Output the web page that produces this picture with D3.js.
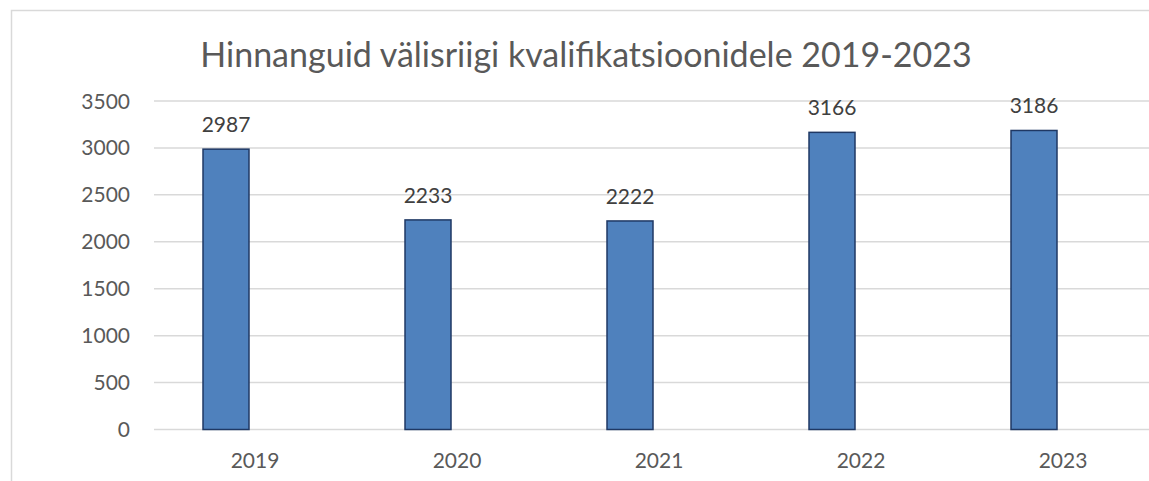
<!DOCTYPE html>
<html>
<head>
<meta charset="utf-8">
<script src="https://cdn.jsdelivr.net/npm/d3@7"></script>
<style>
  html, body { margin: 0; padding: 0; background: #fff; overflow: hidden; }
  svg { display: block; }
</style>
</head>
<body>
<svg id="chart" width="1149" height="481"></svg>
<script>
const title = "Hinnanguid välisriigi kvalifikatsioonidele 2019-2023";
const years = ["2019", "2020", "2021", "2022", "2023"];
const values = [2987, 2233, 2222, 3166, 3186];
const yTicks = [0, 500, 1000, 1500, 2000, 2500, 3000, 3500];

const svg = d3.select("#chart");
const W = 1149, H = 481;
const font = "Lato, 'Open Sans', sans-serif";

// chart border
svg.append("rect")
  .attr("x", 11.5).attr("y", 10.5)
  .attr("width", W + 20).attr("height", H + 20)
  .attr("fill", "#fff").attr("stroke", "#d9d9d9").attr("stroke-width", 1.5);

const plot = { left: 154, right: 1164, top: 101, bottom: 429.5 };

const x = d3.scaleBand().domain(years).range([plot.left, plot.right]).padding(0);
const y = d3.scaleLinear().domain([0, 3500]).range([plot.bottom, plot.top]);

// gridlines
svg.append("g").selectAll("line").data(yTicks).join("line")
  .attr("x1", plot.left).attr("x2", plot.right)
  .attr("y1", d => y(d)).attr("y2", d => y(d))
  .attr("stroke", "#d9d9d9").attr("stroke-width", 1.5);

// y tick labels
svg.append("g").selectAll("text").data(yTicks).join("text")
  .attr("x", 130).attr("y", d => y(d))
  .attr("dy", "0.36em")
  .attr("text-anchor", "end")
  .attr("font-family", font).attr("font-size", 21)
  .attr("fill", "#595959")
  .text(d => d);

// bars (first series of a two-slot cluster; second slot empty)
const bw = x.bandwidth();
const barOffset = bw * 0.2426;
const barW = bw * 0.2277;

svg.append("g").selectAll("rect").data(values).join("rect")
  .attr("x", (d, i) => x(years[i]) + barOffset)
  .attr("y", d => y(d))
  .attr("width", barW)
  .attr("height", d => y(0) - y(d))
  .attr("fill", "#4f81bd")
  .attr("stroke", "#1f3864").attr("stroke-width", 1.5);

// data labels
svg.append("g").selectAll("text").data(values).join("text")
  .attr("x", (d, i) => x(years[i]) + barOffset + barW / 2)
  .attr("y", d => y(d) - 17)
  .attr("text-anchor", "middle")
  .attr("font-family", font).attr("font-size", 21)
  .attr("fill", "#404040")
  .text(d => d);

// x labels
svg.append("g").selectAll("text").data(years).join("text")
  .attr("x", d => x(d) + bw / 2)
  .attr("y", 468)
  .attr("text-anchor", "middle")
  .attr("font-family", font).attr("font-size", 21)
  .attr("fill", "#595959")
  .text(d => d);

// title
svg.append("text")
  .attr("x", 586).attr("y", 67)
  .attr("text-anchor", "middle")
  .attr("font-family", font).attr("font-size", 34)
  .attr("fill", "#595959")
  .text(title);
</script>
</body>
</html>
